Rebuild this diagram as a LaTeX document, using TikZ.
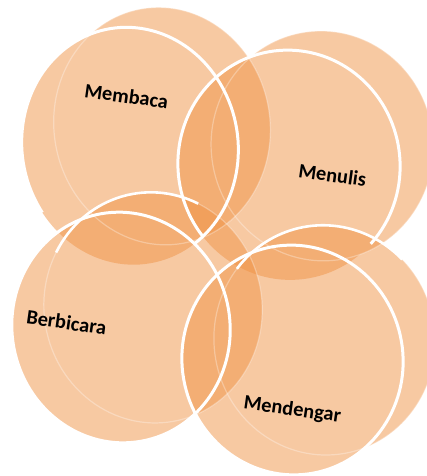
\documentclass[tikz,border=0pt]{standalone}
\usepackage{fontspec}
\setmainfont{Carlito}
\definecolor{petal}{RGB}{239,147,70}
\begin{document}
\begin{tikzpicture}[x=1pt,y=-1pt,
  petalfill/.style={fill=petal, fill opacity=0.5},
  faceline/.style={draw=white, line width=3pt},
  backline/.style={draw=white, line width=2.6pt},
  faintline/.style={draw=white, draw opacity=0.3, line width=1.2pt},
  lbl/.style={font=\bfseries\fontsize{20.4}{24}\selectfont, text=black, inner sep=0pt, anchor=base, rotate=-8},
  pmem/.style={shift={(130,146)}, rotate=10},
  pmen/.style={shift={(289,165)}, rotate=10},
  pber/.style={shift={(121,327.5)}, rotate=10},
  pden/.style={shift={(292.5,360)}, rotate=10}]
\useasboundingbox (0,0) rectangle (427,476);
\clip (0,0) rectangle (427,476);
% fills (face + extruded back as one union)
\begin{scope}[pmem]
  \fill[petalfill] (0,0) ellipse[x radius=108pt, y radius=119pt] (35,-14) ellipse[x radius=108pt, y radius=119pt];
\end{scope}
\begin{scope}[pmen]
  \fill[petalfill] (0,0) ellipse[x radius=111pt, y radius=115pt] (36,-13) ellipse[x radius=111pt, y radius=115pt];
\end{scope}
\begin{scope}[pber]
  \fill[petalfill] (0,0) ellipse[x radius=109pt, y radius=115.5pt] (35,-14) ellipse[x radius=109pt, y radius=115.5pt];
\end{scope}
\begin{scope}[pden]
  \fill[petalfill] (0,0) ellipse[x radius=110.5pt, y radius=115pt] (35,-14) ellipse[x radius=110.5pt, y radius=115pt];
\end{scope}
% faint back rims
\begin{scope}[pmem]
  \draw[faintline] (35,-14) ellipse[x radius=108pt, y radius=119pt];
\end{scope}
\begin{scope}[pmen]
  \draw[faintline] (36,-13) ellipse[x radius=111pt, y radius=115pt];
\end{scope}
\begin{scope}[pber]
  \draw[faintline] (35,-14) ellipse[x radius=109pt, y radius=115.5pt];
  \draw[faintline] (0,0) ellipse[x radius=109pt, y radius=115.5pt];
\end{scope}
\begin{scope}[pden]
  \draw[faintline] (35,-14) ellipse[x radius=110.5pt, y radius=115pt];
\end{scope}
% face outlines of the upper circles
\begin{scope}[pmem]
  \draw[faceline] (-65:108pt and 119pt) arc[start angle=-65, end angle=205, x radius=108pt, y radius=119pt];
\end{scope}
\begin{scope}[pmen]
  \draw[faceline] (-53:111pt and 115pt) arc[start angle=-53, end angle=209, x radius=111pt, y radius=115pt];
\end{scope}
% back top rims of the lower circles
\begin{scope}[pber]
  \draw[backline] (35,-14) ++(142:109pt and 115.5pt) arc[start angle=142, end angle=55, x radius=109pt, y radius=115.5pt];
\end{scope}
\begin{scope}[pden]
  \draw[backline] (35,-14) ++(132:110.5pt and 115pt) arc[start angle=132, end angle=35, x radius=110.5pt, y radius=115pt];
\end{scope}
% face outlines of the lower circles
\begin{scope}[pber]
  \draw[faceline] (0,0) ellipse[x radius=109pt, y radius=115.5pt];
\end{scope}
\begin{scope}[pden]
  \draw[faceline] (0,0) ellipse[x radius=110.5pt, y radius=115pt];
\end{scope}
% labels
\node[lbl] (membaca) at (125.5,103) {Membaca};
\node[lbl] (menulis) at (331.5,182) {Menulis};
\node[lbl] (berbicara) at (65.5,329.5) {Berbicara};
\node[lbl] (mendengar) at (291.5,415.5) {Mendengar};
\end{tikzpicture}
\end{document}
